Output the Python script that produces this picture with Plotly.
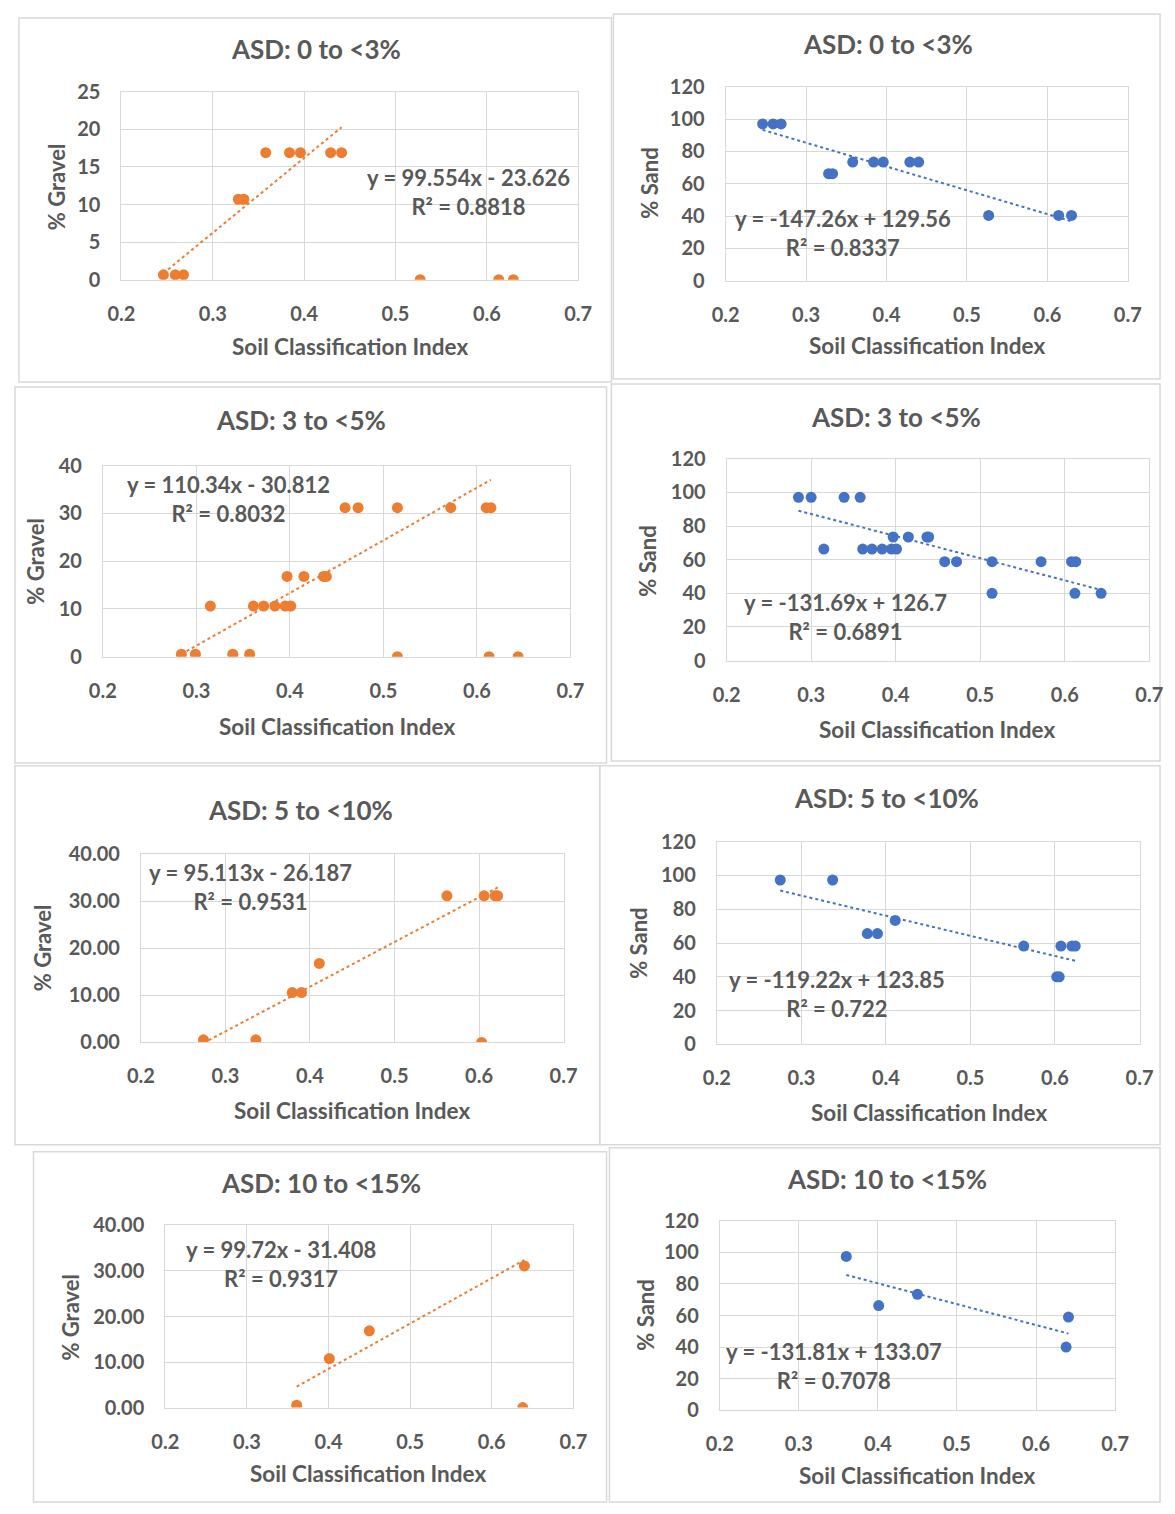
import plotly.graph_objects as go

# ---------------- data ----------------
titles = ["ASD: 0 to <3%", "ASD: 0 to <3%", "ASD: 3 to <5%", "ASD: 3 to <5%",
          "ASD: 5 to <10%", "ASD: 5 to <10%", "ASD: 10 to <15%", "ASD: 10 to <15%"]
y_titles = ["% Gravel", "% Sand", "% Gravel", "% Sand", "% Gravel", "% Sand", "% Gravel", "% Sand"]
x_title = "Soil Classification Index"

g1_x = [0.246, 0.259, 0.268, 0.328, 0.334, 0.358, 0.384, 0.396, 0.429, 0.441, 0.527, 0.613, 0.629]
g1_y = [0.65, 0.65, 0.65, 10.7, 10.7, 16.9, 16.9, 16.9, 16.9, 16.9, 0, 0, 0]
s1_x = [0.246, 0.259, 0.269, 0.328, 0.333, 0.358, 0.384, 0.396, 0.429, 0.440, 0.527, 0.614, 0.630]
s1_y = [97, 97, 97, 66.2, 66.2, 73.4, 73.4, 73.4, 73.4, 73.4, 40.4, 40.4, 40.4]

g2_x = [0.284, 0.299, 0.339, 0.357, 0.515, 0.613, 0.644, 0.315, 0.361, 0.372, 0.384, 0.395, 0.401,
        0.397, 0.415, 0.436, 0.439, 0.459, 0.473, 0.515, 0.572, 0.610, 0.615]
g2_y = [0.5, 0.5, 0.5, 0.5, 0, 0, 0, 10.6, 10.6, 10.6, 10.6, 10.6, 10.6,
        16.8, 16.8, 16.8, 16.8, 31.2, 31.2, 31.2, 31.2, 31.2, 31.2]
s2_x = [0.285, 0.300, 0.339, 0.358, 0.315, 0.361, 0.372, 0.384, 0.395, 0.401, 0.397, 0.415, 0.437,
        0.439, 0.458, 0.472, 0.514, 0.572, 0.608, 0.613, 0.514, 0.612, 0.643]
s2_y = [97.1, 97.1, 97.1, 97.1, 66.3, 66.3, 66.3, 66.3, 66.3, 66.3, 73.5, 73.5, 73.5,
        73.5, 58.8, 58.8, 58.8, 58.8, 58.8, 58.8, 40, 40, 40]

g3_x = [0.274, 0.336, 0.603, 0.379, 0.390, 0.411, 0.562, 0.606, 0.619, 0.622]
g3_y = [0.56, 0.56, 0, 10.6, 10.6, 16.8, 31.2, 31.2, 31.2, 31.2]
s3_x = [0.275, 0.337, 0.378, 0.390, 0.411, 0.563, 0.607, 0.620, 0.624, 0.602, 0.605]
s3_y = [97.3, 97.3, 65.6, 65.6, 73.4, 58.2, 58.2, 58.2, 58.2, 40, 40]

g4_x = [0.361, 0.401, 0.450, 0.640, 0.638]
g4_y = [0.5, 10.75, 16.85, 31.1, 0]
s4_x = [0.360, 0.401, 0.450, 0.641, 0.638]
s4_y = [97.3, 66.3, 73.4, 59.0, 40.1]

slopes = [99.554, -147.26, 110.34, -131.69, 95.113, -119.22, 99.72, -131.81]
intercepts = [-23.626, 129.56, -30.812, 126.7, -26.187, 123.85, -31.408, 133.07]
eq_texts = ["y = 99.554x - 23.626", "y = -147.26x + 129.56", "y = 110.34x - 30.812",
            "y = -131.69x + 126.7", "y = 95.113x - 26.187", "y = -119.22x + 123.85",
            "y = 99.72x - 31.408", "y = -131.81x + 133.07"]
r2_texts = ["R² = 0.8818", "R² = 0.8337", "R² = 0.8032", "R² = 0.6891",
            "R² = 0.9531", "R² = 0.722", "R² = 0.9317", "R² = 0.7078"]

xs = [g1_x, s1_x, g2_x, s2_x, g3_x, s3_x, g4_x, s4_x]
ys = [g1_y, s1_y, g2_y, s2_y, g3_y, s3_y, g4_y, s4_y]

# ---------------- layout (pixels) ----------------
W, H = 1175, 1514
ORANGE = "#ED7D31"
BLUE = "#4472C4"
GRID = "#D9D9D9"
TXT = "#595959"
FONT = "Lato"

# plot area: (x0, x1, ytop, ybottom), y max, dtick, tickformat
areas = [
    (110, 578, 80, 271, 25, 5, ""),
    (729, 1141, 75, 272, 120, 20, ""),
    (91, 570, 460, 654, 40, 10, ""),
    (730, 1163, 453, 658, 120, 20, ""),
    (130, 563, 855, 1046, 40, 10, ".2f"),
    (720, 1153, 842, 1048, 120, 20, ""),
    (155, 573, 1232, 1417, 40, 10, ".2f"),
    (723, 1128, 1227, 1420, 120, 20, ""),
]
title_pos = [(309, 37), (895, 32), (294, 414), (904, 410), (294, 810), (894, 798), (314, 1189), (894, 1185)]
xt_pos = [(344, 339), (935, 338), (331, 725), (946, 728), (346, 1115), (937, 1117), (363, 1484), (925, 1486)]
yt_pos = [(43, 176), (651, 173), (22, 557), (649, 557), (30, 950), (639, 945), (58, 1325), (646, 1323)]
eq_pos = [(466, 182), (849, 224), (220, 494), (852, 614), (242, 888), (843, 997), (274, 1271), (840, 1375)]
boxes = [(5, 5, 612, 375), (614, 1, 1174, 372), (1, 380, 607, 762), (612, 377, 1174, 760),
         (1, 765, 600, 1150), (600, 765, 1174, 1150), (20, 1157, 607, 1513), (610, 1153, 1174, 1513)]

def px(x):
    return x / W

def py(y):
    return 1 - y / H

fig = go.Figure()
annotations = []
shapes = []

for i in range(8):
    x0, x1, yt, yb, ymax, dt, fmt = areas[i]
    color = ORANGE if i % 2 == 0 else BLUE
    n = "" if i == 0 else str(i + 1)
    xa, ya = "x" + n, "y" + n
    fig.add_trace(go.Scatter(x=xs[i], y=ys[i], mode="markers", xaxis=xa, yaxis=ya,
                             marker=dict(color=color, size=11), showlegend=False, hoverinfo="x+y"))
    if i % 2 == 0:
        fx = [x for x, y in zip(xs[i], ys[i]) if y > 0]
    else:
        fx = xs[i]
    tx = [min(fx), max(fx)]
    ty = [slopes[i] * v + intercepts[i] for v in tx]
    fig.add_trace(go.Scatter(x=tx, y=ty, mode="lines", xaxis=xa, yaxis=ya,
                             line=dict(color=color, width=2, dash="dot"),
                             showlegend=False, hoverinfo="skip"))
    axcommon = dict(showgrid=True, gridcolor=GRID, gridwidth=1, showline=True, mirror=True,
                    linecolor=GRID, linewidth=1, zeroline=False, ticks="outside",
                    tickcolor="rgba(0,0,0,0)", tickfont=dict(family=FONT, size=20, color=TXT, weight="bold"),
                    fixedrange=True)
    fig.update_layout(**{
        ("xaxis" + n): dict(domain=[px(x0), px(x1)], range=[0.2, 0.7], dtick=0.1, tick0=0.2,
                            tickformat=".1f", anchor=ya, ticklen=16, **axcommon),
        ("yaxis" + n): dict(domain=[py(yb), py(yt)], range=[0, ymax], dtick=dt, tick0=0,
                            tickformat=fmt, anchor=xa, ticklen=16, **axcommon),
    })
    annotations.append(dict(x=px(title_pos[i][0]), y=py(title_pos[i][1]), xref="paper", yref="paper",
                            text=titles[i], showarrow=False, xanchor="center", yanchor="middle",
                            font=dict(family=FONT, size=26, color=TXT, weight="bold")))
    annotations.append(dict(x=px(xt_pos[i][0]), y=py(xt_pos[i][1]), xref="paper", yref="paper",
                            text=x_title, showarrow=False, xanchor="center", yanchor="middle",
                            font=dict(family=FONT, size=22.5, color=TXT, weight="bold")))
    annotations.append(dict(x=px(yt_pos[i][0]), y=py(yt_pos[i][1]), xref="paper", yref="paper",
                            text=y_titles[i], showarrow=False, xanchor="center", yanchor="middle",
                            textangle=-90,
                            font=dict(family=FONT, size=22, color=TXT, weight="bold")))
    annotations.append(dict(x=px(eq_pos[i][0]), y=py(eq_pos[i][1]), xref="paper", yref="paper",
                            text=eq_texts[i] + "<br>" + r2_texts[i], showarrow=False,
                            xanchor="center", yanchor="middle", align="center",
                            font=dict(family=FONT, size=22, color=TXT, weight="bold")))
    bx0, by0, bx1, by1 = boxes[i]
    shapes.append(dict(type="rect", xref="paper", yref="paper", x0=px(bx0), x1=px(bx1),
                       y0=py(by1), y1=py(by0), line=dict(color=GRID, width=1.5), layer="below"))

fig.update_layout(width=W, height=H, margin=dict(l=0, r=0, t=0, b=0),
                  paper_bgcolor="white", plot_bgcolor="white",
                  annotations=annotations, shapes=shapes, showlegend=False)

fig.write_html("out.html")
